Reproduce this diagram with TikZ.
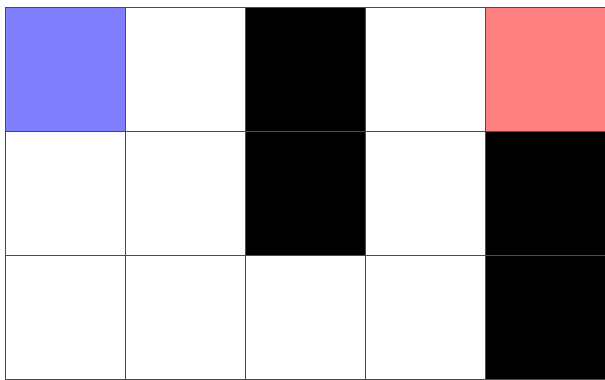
\documentclass[tikz,border=0pt]{standalone}
\usepackage{xcolor}
\usepackage{tikz}

\begin{document}
\begin{tikzpicture}[x=1pt,y=1pt,
    cell/.style={rectangle, draw=black!70, line width=0.5pt, minimum width=120pt, minimum height=124pt, inner sep=0pt, anchor=north west}]
    \useasboundingbox (0,0) rectangle (605,380);
    % Cells
    \foreach \r in {0,1,2} {
        \foreach \c in {0,1,2,3,4} {
            \node (cell-\r-\c) [cell, fill=white] at (5+120*\c, 373-124*\r) {};
        }
    }
    % Coloured cells
    \node (start) [cell, fill=blue!50] at (5, 373) {};
    \node (goal) [cell, fill=red!50] at (485, 373) {};
    \node (wall-a) [cell, fill=black] at (245, 373) {};
    \node (wall-b) [cell, fill=black] at (245, 249) {};
    \node (wall-c) [cell, fill=black] at (485, 249) {};
    \node (wall-d) [cell, fill=black] at (485, 125) {};
\end{tikzpicture}
\end{document}
